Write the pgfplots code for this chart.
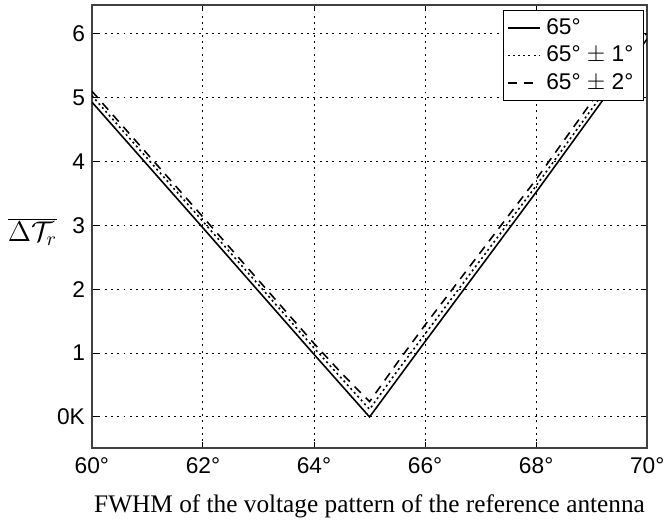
\documentclass[border=0pt]{standalone}
\usepackage{pgfplots}
\pgfplotsset{compat=1.18}
\usepackage{fontspec}
\setmainfont{Liberation Sans}
\newfontfamily\seriffont{Liberation Serif}

\begin{document}
\begin{tikzpicture}
\begin{axis}[
  scale only axis,
  width=281pt, height=224pt,
  at={(0,0)}, anchor=south west,
  xmin=60, xmax=70, ymin=-0.48, ymax=6.45,
  xtick={60,62,...,70},
  xticklabels={60°,62°,64°,66°,68°,70°},
  ytick={0,1,...,6},
  yticklabels={0K,1,2,3,4,5,6},
  tick align=inside,
  major tick length=3pt,
  tick style={black, line width=0.5pt},
  axis line style={line width=0.9pt, black!75},
  grid=major,
  major grid style={black, line width=0.5pt, dash pattern=on 1pt off 2.2pt},
  tick label style={font=\fontsize{11.5}{13}\selectfont},
  xticklabel style={yshift=-1.5pt},
  xlabel={\seriffont\fontsize{12.8}{14}\selectfont FWHM of the voltage pattern of the reference antenna},
  xlabel style={at={(axis description cs:0.5,-0.132)}, anchor=center},
  ylabel={$\overline{\Delta\mathcal{T}_r}$},
  ylabel style={rotate=-90, at={(axis description cs:-0.107,0.487)}, anchor=center, font=\Large},
  legend style={at={(axis description cs:0.994,0.989)}, anchor=north east,
    draw=black, line width=0.6pt, font=\fontsize{11.5}{13}\selectfont,
    inner xsep=2pt, inner ysep=2pt, row sep=0.5pt,
    nodes={inner xsep=3pt}},
  legend cell align=left,
  legend image code/.code={\draw[#1, line width=0.8pt] (2pt,0pt) -- (18pt,0pt);},
]
\addplot[black, line width=0.8pt] coordinates {(60,4.93) (62,2.96) (64,0.98) (65,0.0) (66,1.18) (68,3.52) (70,5.92)};
\addplot[black, line width=0.8pt, dash pattern=on 1pt off 1.6pt] coordinates {(60,5.03) (62,3.06) (64,1.08) (64.5,0.6) (65,0.12) (65.5,0.72) (66,1.3) (68,3.62) (70,6.02)};
\addplot[black, line width=0.8pt, dash pattern=on 4.5pt off 3.5pt] coordinates {(60,5.1) (62,3.13) (64,1.15) (64.5,0.68) (65,0.24) (65.5,0.85) (66,1.44) (68,3.72) (70,6.15)};
\legend{65°, 65° $\pm$ 1°, 65° $\pm$ 2°}
\end{axis}
\path (-46.5pt,-37pt) rectangle (289pt,226.5pt);
\end{tikzpicture}
\end{document}
